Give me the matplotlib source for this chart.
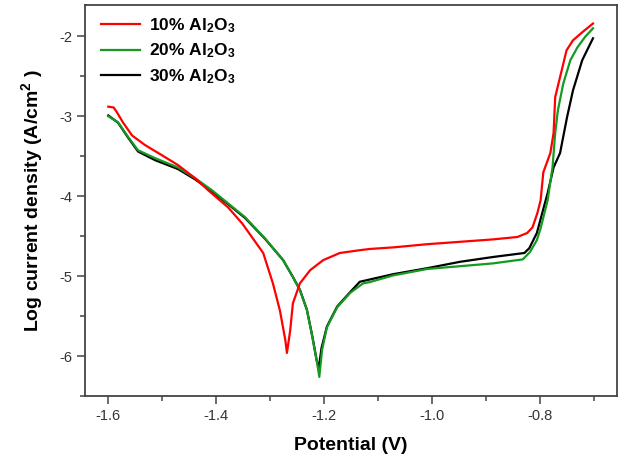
import matplotlib
matplotlib.use("Agg")
import matplotlib.pyplot as plt
from matplotlib.ticker import MultipleLocator

plt.rcParams['font.family'] = ['Liberation Sans', 'DejaVu Sans']
plt.rcParams['axes.unicode_minus'] = False
plt.rcParams['mathtext.fontset'] = 'custom'
plt.rcParams['mathtext.rm'] = 'Liberation Sans:bold'
plt.rcParams['mathtext.it'] = 'Liberation Sans:bold'
plt.rcParams['mathtext.bf'] = 'Liberation Sans:bold'

# 10% Al2O3
red_x = [-1.600, -1.590, -1.584, -1.573, -1.556, -1.532, -1.500, -1.471, -1.439, -1.415, -1.378,
         -1.352, -1.334, -1.313, -1.295, -1.282, -1.272, -1.269, -1.263, -1.258, -1.245,
         -1.226, -1.202, -1.171, -1.134, -1.116, -1.072, -1.009, -0.948, -0.887, -0.842,
         -0.824, -0.814, -0.805, -0.799, -0.794, -0.781, -0.775, -0.772, -0.763, -0.751,
         -0.739, -0.722, -0.702]
red_y = [-2.88, -2.89, -2.95, -3.075, -3.24, -3.36, -3.49, -3.61, -3.775, -3.925, -4.14,
         -4.34, -4.51, -4.71, -5.09, -5.43, -5.80, -5.96, -5.68, -5.34, -5.09,
         -4.925, -4.80, -4.71, -4.675, -4.66, -4.64, -4.60, -4.57, -4.54, -4.51,
         -4.46, -4.39, -4.21, -4.05, -3.70, -3.46, -3.21, -2.76, -2.51, -2.175,
         -2.05, -1.95, -1.84]

# 20% Al2O3
green_x = [-1.600, -1.582, -1.563, -1.545, -1.513, -1.471, -1.439, -1.408, -1.378, -1.347,
           -1.310, -1.276, -1.258, -1.245, -1.232, -1.222, -1.213, -1.209, -1.204, -1.195,
           -1.176, -1.152, -1.128, -1.116, -1.072, -1.009, -0.948, -0.887, -0.832, -0.819,
           -0.806, -0.799, -0.786, -0.777, -0.772, -0.767, -0.757, -0.744, -0.731, -0.717,
           -0.702]
green_y = [-3.00, -3.075, -3.26, -3.425, -3.525, -3.64, -3.775, -3.925, -4.09, -4.26,
           -4.525, -4.80, -5.01, -5.175, -5.425, -5.76, -6.09, -6.26, -5.925, -5.64,
           -5.39, -5.21, -5.09, -5.075, -4.99, -4.91, -4.875, -4.84, -4.79, -4.70,
           -4.55, -4.40, -4.05, -3.64, -3.21, -2.925, -2.59, -2.30, -2.14, -2.01,
           -1.90]

# 30% Al2O3
black_x = [-1.600, -1.582, -1.563, -1.545, -1.513, -1.471, -1.439, -1.408, -1.378, -1.347,
           -1.310, -1.276, -1.258, -1.245, -1.232, -1.222, -1.214, -1.210, -1.205, -1.195,
           -1.176, -1.152, -1.134, -1.072, -1.009, -0.948, -0.887, -0.829, -0.820, -0.806,
           -0.786, -0.775, -0.763, -0.750, -0.739, -0.722, -0.713, -0.702]
black_y = [-2.99, -3.08, -3.27, -3.44, -3.55, -3.66, -3.79, -3.94, -4.10, -4.27,
           -4.53, -4.80, -5.01, -5.17, -5.42, -5.75, -6.05, -6.15, -5.90, -5.63,
           -5.38, -5.20, -5.07, -4.975, -4.90, -4.82, -4.76, -4.71, -4.65, -4.46,
           -3.96, -3.64, -3.46, -3.01, -2.675, -2.30, -2.175, -2.025]

labels = ['10% Al$_2$O$_3$', '20% Al$_2$O$_3$', '30% Al$_2$O$_3$']

fig = plt.figure(figsize=(6.21, 4.66), dpi=100)
ax = fig.add_axes([0.137, 0.150, 0.857, 0.839])

l3, = ax.plot(black_x, black_y, color='black', lw=1.6)
l2, = ax.plot(green_x, green_y, color='#149a22', lw=1.6)
l1, = ax.plot(red_x, red_y, color='#ff0000', lw=1.6)

ax.set_xlim(-1.643, -0.657)
ax.set_ylim(-6.5, -1.61)
ax.xaxis.set_major_locator(MultipleLocator(0.2))
ax.xaxis.set_minor_locator(MultipleLocator(0.1))
ax.yaxis.set_major_locator(MultipleLocator(1))
ax.yaxis.set_minor_locator(MultipleLocator(0.5))
ax.xaxis.set_major_formatter(plt.FuncFormatter(lambda v, p: '%.1f' % v))
ax.yaxis.set_major_formatter(plt.FuncFormatter(lambda v, p: '%d' % round(v)))

for s in ax.spines.values():
    s.set_color('#444444')
    s.set_linewidth(1.3)
ax.tick_params(which='major', direction='out', length=6, width=1.1,
               color='#444444', labelsize=10.5, labelcolor='#333333')
ax.tick_params(which='minor', direction='out', length=3.5, width=1.1, color='#444444')
ax.tick_params(top=False, right=False, which='both')

ax.set_xlabel('Potential (V)', fontsize=14, fontweight='bold', labelpad=10)
ax.set_ylabel('Log current density (A/cm$^{2}$ )', fontsize=14, fontweight='bold', labelpad=10)

ax.legend([l1, l2, l3], labels, loc='upper left', frameon=False,
          prop={'weight': 'bold', 'size': 12.5}, handlelength=2.3,
          handletextpad=0.5, labelspacing=0.4, borderaxespad=0,
          bbox_to_anchor=(0.016, 0.99))

fig.savefig('out.png', dpi=100)
